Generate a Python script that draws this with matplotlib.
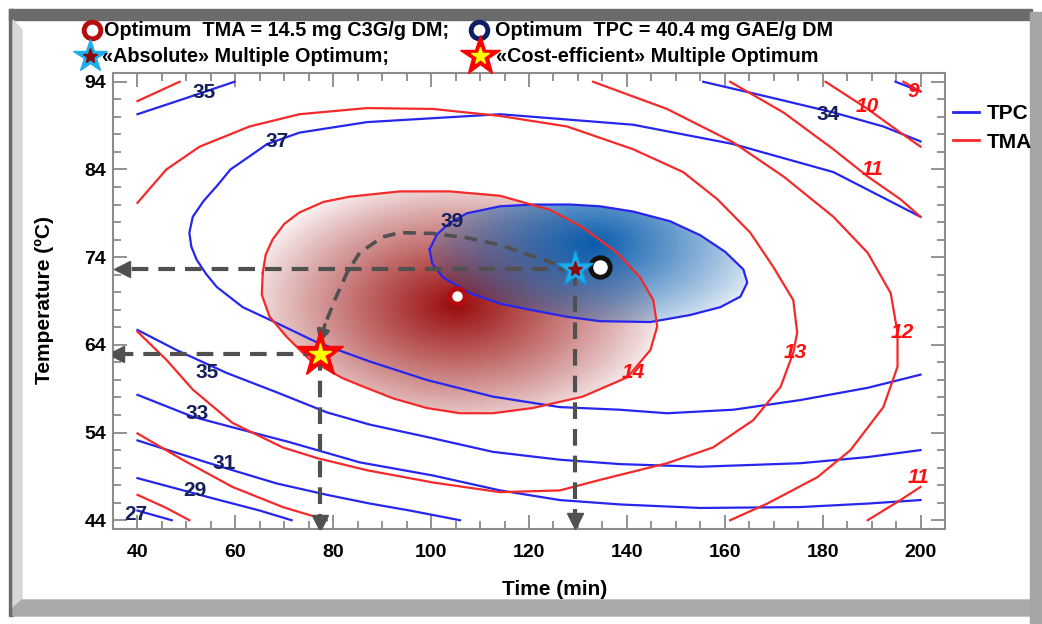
import numpy as np
import matplotlib.pyplot as plt
from matplotlib.patches import Polygon, Rectangle
from matplotlib.lines import Line2D

plt.rcParams['font.family'] = ['Liberation Sans', 'DejaVu Sans']
plt.rcParams['font.weight'] = 'bold'

# ---- TPC contours (time min, temperature C) ----
tpc39_t = [99.7, 101.2, 103.8, 107.3, 114.1, 120.8, 128.4, 134.5, 141.3, 148.8, 155.0, 160.1, 163.8,
           164.6, 163.2, 159.1, 152.9, 144.8, 134.5, 127.8, 120.2, 114.1, 107.9, 102.4, 100.2, 99.7]
tpc39_T = [74.9, 76.6, 77.9, 79.0, 79.8, 80.0, 80.0, 79.8, 79.2, 78.1, 76.5, 74.6, 72.6,
           71.1, 69.5, 68.3, 67.4, 66.6, 66.7, 67.2, 68.0, 68.7, 69.9, 71.7, 73.3, 74.9]
tpc37_t = [200.0, 182.2, 161.7, 141.3, 114.1, 86.9, 73.1, 66.5, 62.9, 59.0, 56.2, 53.5, 51.3, 50.6,
           51.0, 52.1, 54.0, 56.2, 61.5, 68.4, 76.6, 87.5, 99.1, 112.6, 126.3, 138.6, 148.2, 161.7,
           175.4, 189.2, 200.0]
tpc37_T = [78.6, 83.7, 86.9, 89.1, 90.3, 89.4, 88.2, 86.9, 85.5, 84.0, 82.1, 80.4, 78.6, 76.8,
           75.2, 73.7, 72.1, 70.6, 68.3, 66.5, 64.3, 62.1, 60.0, 58.1, 56.9, 56.6, 56.2, 56.6,
           57.7, 59.1, 60.6]
tpc35a_t = [40.0, 49.2, 59.8]
tpc35a_T = [90.3, 92.0, 94.0]
tpc35b_t = [40.0, 48.0, 58.2, 68.4, 78.7, 87.5, 99.1, 112.6, 126.3, 138.6, 155.0, 175.4, 189.2, 200.0]
tpc35b_T = [65.7, 63.4, 60.8, 58.6, 56.3, 54.9, 53.5, 51.8, 50.9, 50.4, 50.1, 50.5, 51.2, 52.0]
tpc34_t = [155.6, 168.7, 182.2, 192.4, 200.0]
tpc34_T = [94.0, 92.3, 90.5, 88.9, 87.2]
tpc33a_t = [194.9, 200.0]
tpc33a_T = [94.0, 92.9]
tpc33b_t = [40.0, 51.3, 59.4, 71.1, 85.4, 100.4, 114.1, 126.3, 138.6, 155.0, 175.4, 189.2, 200.0]
tpc33b_T = [58.3, 55.8, 54.6, 52.9, 50.6, 49.1, 47.4, 46.3, 45.8, 45.4, 45.5, 45.9, 46.3]
tpc31_t = [40.0, 54.7, 68.4, 78.7, 87.5, 95.7, 105.9]
tpc31_T = [53.1, 50.5, 48.2, 46.9, 45.9, 45.1, 44.0]
tpc29_t = [40.0, 54.7, 65.0, 71.5]
tpc29_T = [48.8, 46.6, 45.1, 44.0]
tpc27_t = [40.0, 47.0]
tpc27_T = [45.1, 44.0]

# ---- TMA contours ----
tma14_t = [65.6, 66.2, 67.6, 70.0, 73.1, 78.0, 83.4, 93.6, 103.8, 114.1, 124.3, 131.0, 138.0, 142.7,
           145.4, 146.2, 144.8, 140.1, 131.0, 120.8, 112.6, 105.9, 99.1, 92.2, 85.4, 81.9, 75.2,
           70.5, 67.0, 65.4, 65.6]
tma14_T = [72.2, 74.3, 76.0, 77.8, 79.1, 80.3, 80.9, 81.5, 81.5, 81.0, 79.4, 77.4, 74.5, 71.7,
           69.1, 66.1, 63.4, 60.3, 58.1, 56.8, 56.2, 56.2, 56.8, 57.9, 59.4, 60.2, 62.3,
           64.9, 67.2, 69.7, 72.2]
tma13_t = [40.0, 45.9, 51.3, 59.4, 69.7, 76.6, 86.9, 100.4, 114.1, 126.3, 134.5, 148.2, 157.6, 165.8,
           171.4, 174.0, 174.8, 174.0, 169.9, 165.2, 158.5, 151.5, 141.3, 127.8, 114.1, 100.4, 86.9,
           73.1, 62.9, 52.7, 45.9, 40.0]
tma13_T = [65.5, 62.3, 58.9, 55.1, 52.3, 51.1, 49.7, 48.3, 47.2, 47.4, 48.6, 50.5, 52.3, 55.4,
           59.2, 63.1, 65.4, 69.1, 72.9, 76.8, 80.6, 83.7, 86.3, 88.9, 90.1, 90.9, 91.0,
           90.3, 88.9, 86.6, 84.0, 80.2]
tma12a_t = [133.1, 148.2, 161.7, 172.0, 182.2, 189.2, 193.9, 195.3, 195.3, 192.4, 185.7, 178.9, 168.7, 161.1]
tma12a_T = [94.0, 90.9, 87.1, 83.2, 78.6, 74.5, 69.9, 65.4, 61.5, 56.9, 52.0, 48.9, 45.9, 44.0]
tma12b_t = [40.0, 49.2, 59.4, 69.7, 78.7]
tma12b_T = [53.9, 50.9, 47.8, 45.5, 44.0]
tma12c_t = [40.0, 48.6]
tma12c_T = [91.8, 94.0]
tma11a_t = [161.1, 172.0, 182.2, 189.2, 195.9, 200.0]
tma11a_T = [94.0, 90.5, 86.3, 83.2, 80.6, 78.6]
tma11b_t = [189.2, 195.9, 200.0]
tma11b_T = [44.0, 46.3, 47.8]
tma11c_t = [40.0, 45.9, 50.6]
tma11c_T = [46.9, 45.4, 44.0]
tma10_t = [180.6, 189.2, 195.9, 200.0]
tma10_T = [94.0, 90.9, 88.2, 86.6]
tma9_t = [196.5, 200.0]
tma9_T = [94.0, 92.9]

# contour labels
tpc_labels = ['35', '37', '39', '34', '35', '33', '31', '29', '27']
tpc_label_t = [53.7, 68.6, 104.2, 181.2, 54.3, 52.1, 57.8, 51.7, 39.6]
tpc_label_T = [92.8, 87.2, 78.1, 90.3, 60.9, 56.2, 50.5, 47.4, 44.6]
tma_labels = ['10', '9', '11', '14', '13', '12', '11']
tma_label_t = [189.2, 198.6, 190.2, 141.3, 174.4, 196.3, 199.6]
tma_label_T = [91.2, 92.9, 84.0, 60.9, 63.1, 65.4, 48.9]

# optimum points
tma_opt = (105.3, 69.6)
tpc_opt = (134.5, 72.9)
abs_opt = (129.5, 72.6)
cost_opt = (77.2, 63.0)

# curved path from absolute to cost-efficient optimum
path_t = [129.5, 127.8, 120.8, 114.1, 107.3, 100.4, 93.6, 90.1, 85.4, 82.8, 80.3, 78.3]
path_T = [72.6, 72.8, 74.1, 75.4, 76.2, 76.7, 76.8, 76.3, 74.5, 72.2, 69.1, 66.3]
path_tip = (77.2, 64.2)

BLUE = '#2626ee'
RED = '#f42a2a'
NAVY = '#15205a'
ARROW = '#505050'

fig = plt.figure(figsize=(10.42, 6.24), dpi=100)
fig.patch.set_facecolor('white')
ax = fig.add_axes([113 / 1042, 1 - 529 / 624, (945 - 113) / 1042, (529 - 73) / 624])


def shade(tt, TT, cx, cy, rx, ry, rgb, power):
    gx = np.linspace(40, 200, 480)
    gy = np.linspace(44, 94, 300)
    X, Y = np.meshgrid(gx, gy)
    d = np.sqrt(((X - cx) / rx) ** 2 + ((Y - cy) / ry) ** 2)
    img = np.zeros(X.shape + (4,))
    img[..., :3] = rgb
    img[..., 3] = np.clip(1 - 0.9 * d, 0, 1) ** power
    im = ax.imshow(img, extent=(40, 200, 44, 94), origin='lower', aspect='auto',
                   interpolation='bilinear', zorder=1)
    clip = Polygon(np.column_stack([tt, TT]), closed=True, facecolor='none', edgecolor='none')
    ax.add_patch(clip)
    im.set_clip_path(clip)


shade(tma14_t, tma14_T, 105, 68.5, 41, 14, (0.60, 0.04, 0.04), 0.9)
shade(tpc39_t, tpc39_T, 133, 75.5, 35, 11, (0.03, 0.36, 0.68), 0.85)

for tt, TT in [(tpc39_t, tpc39_T), (tpc37_t, tpc37_T), (tpc35a_t, tpc35a_T), (tpc35b_t, tpc35b_T),
               (tpc34_t, tpc34_T), (tpc33a_t, tpc33a_T), (tpc33b_t, tpc33b_T), (tpc31_t, tpc31_T),
               (tpc29_t, tpc29_T), (tpc27_t, tpc27_T)]:
    ax.plot(tt, TT, color=BLUE, lw=1.6, zorder=3, solid_joinstyle='round')
for tt, TT in [(tma14_t, tma14_T), (tma13_t, tma13_T), (tma12a_t, tma12a_T), (tma12b_t, tma12b_T),
               (tma12c_t, tma12c_T), (tma11a_t, tma11a_T), (tma11b_t, tma11b_T), (tma11c_t, tma11c_T),
               (tma10_t, tma10_T), (tma9_t, tma9_T)]:
    ax.plot(tt, TT, color=RED, lw=1.6, zorder=3, solid_joinstyle='round')

for s, x, y in zip(tpc_labels, tpc_label_t, tpc_label_T):
    ax.text(x, y, s, color=NAVY, fontsize=15, fontweight='bold', ha='center', va='center', zorder=6)
for s, x, y in zip(tma_labels, tma_label_t, tma_label_T):
    ax.text(x, y, s, color='#ff1010', fontsize=15, fontweight='bold', style='italic',
            ha='center', va='center', zorder=6)

# dashed guide arrows
dash = dict(color=ARROW, lw=3, dashes=(4, 2.4), zorder=7, solid_capstyle='butt')
ax.plot([abs_opt[0], 37.8], [abs_opt[1], abs_opt[1]], **dash)
ax.plot([abs_opt[0], abs_opt[0]], [abs_opt[1], 44.3], **dash)
ax.plot([cost_opt[0], 36.0], [cost_opt[1], cost_opt[1]], **dash)
ax.plot([cost_opt[0], cost_opt[0]], [cost_opt[1], 44.3], **dash)
ax.plot(36.8, abs_opt[1], marker='<', ms=11, color=ARROW, zorder=7)
ax.plot(35.6, cost_opt[1], marker='<', ms=11, color=ARROW, zorder=7)
ax.plot(abs_opt[0], 43.9, marker='v', ms=11, color=ARROW, zorder=7)
ax.plot(cost_opt[0], 43.7, marker='v', ms=11, color=ARROW, zorder=7)
ax.plot(path_t, path_T, color=ARROW, lw=2.6, dashes=(3.5, 2.2), zorder=7)
ax.annotate('', xy=path_tip, xytext=(path_t[-1], path_T[-1]),
            arrowprops=dict(arrowstyle='-|>', color=ARROW, lw=2.5, mutation_scale=18,
                            shrinkA=0, shrinkB=0), zorder=7)

# optimum markers
ax.plot(*tma_opt, marker='o', ms=11, mfc='white', mec='#b50d0d', mew=3.5, zorder=8)
ax.plot(*tpc_opt, marker='o', ms=14, mfc='white', mec='#111111', mew=3.5, zorder=8)
ax.plot(*abs_opt, marker='*', ms=27, mfc='#1eb0ee', mec='#1098e0', mew=1, zorder=9)
ax.plot(*abs_opt, marker='*', ms=11, mfc='#8a0a0a', mec='#8a0a0a', zorder=10)
ax.plot(*cost_opt, marker='*', ms=35, mfc='#ff0000', mec='#ff0000', zorder=9)
ax.plot(*cost_opt, marker='*', ms=16, mfc='#ffff00', mec='#ffff00', zorder=10)

ax.set_xlim(35, 205)
ax.set_ylim(43, 95)
ax.set_xticks(np.arange(40, 201, 20))
ax.set_xticks(np.arange(40, 201, 5), minor=True)
ax.set_yticks(np.arange(44, 95, 10))
ax.set_yticks(np.arange(44, 95, 2), minor=True)
ax.tick_params(which='both', direction='in', top=True, right=True, color='#808080', width=1.2)
ax.tick_params(which='major', length=10, labelsize=14, pad=11)
ax.tick_params(which='minor', length=6)
ax.tick_params(axis='y', which='major', pad=5)
for lab in ax.get_xticklabels() + ax.get_yticklabels():
    lab.set_fontweight('bold')
for sp in ax.spines.values():
    sp.set_color('#8c8c8c')
    sp.set_linewidth(1.5)
ax.set_xlabel('Time (min)', fontsize=15, fontweight='bold')
ax.xaxis.set_label_coords((555 - 113) / 832, -(580 - 529) / 456)
ax.set_ylabel('Temperature (ºC)', fontsize=15, fontweight='bold')
ax.yaxis.set_label_coords(-(113 - 54) / 832, (529 - 300) / 456)

ax.legend(handles=[Line2D([], [], color=BLUE, lw=2, label='TPC'),
                   Line2D([], [], color=RED, lw=2, label='TMA')],
          loc='upper left', bbox_to_anchor=(1.0, 0.95), frameon=False,
          prop=dict(size=15, weight='bold'), handlelength=1.25, handletextpad=0.35,
          labelspacing=0.45, borderaxespad=0.0)

# overlay in pixel units for frame
ov = fig.add_axes([0, 0, 1, 1], zorder=-1)
ov.set_xlim(0, 1042)
ov.set_ylim(624, 0)
ov.axis('off')
ov.add_patch(Rectangle((9, 9), 1023, 11, color='#6b6b6b'))
ov.add_patch(Rectangle((9, 9), 4, 607, color='#6b6b6b'))
ov.add_patch(Polygon([(13, 20), (22, 30), (22, 600), (13, 608)], color='#d8d8d8'))
ov.add_patch(Rectangle((1030, 12), 12, 612, color='#a5a5a5'))
ov.add_patch(Polygon([(13, 608), (22, 600), (1030, 600), (1030, 616), (13, 616)], color='#a9a9a9'))

# header legend
hdr = fig.add_axes([0, 0, 1, 1], zorder=5)
hdr.set_xlim(0, 1042)
hdr.set_ylim(624, 0)
hdr.axis('off')
hdr.plot(92, 30, marker='o', ms=12, mfc='white', mec='#b50d0d', mew=3.5)
hdr.text(104, 30, 'Optimum  TMA = 14.5 mg C3G/g DM;', fontsize=14.3, fontweight='bold', va='center')
hdr.plot(479, 30, marker='o', ms=12, mfc='white', mec='#0b1f63', mew=3.5)
hdr.text(495, 30, 'Optimum  TPC = 40.4 mg GAE/g DM', fontsize=14.3, fontweight='bold', va='center')
hdr.plot(90, 56, marker='*', ms=25, mfc='#1eb0ee', mec='#1eb0ee')
hdr.plot(90, 56, marker='*', ms=11, mfc='#8a0a0a', mec='#8a0a0a')
hdr.text(102, 56, '«Absolute» Multiple Optimum;', fontsize=14.3, fontweight='bold', va='center')
hdr.plot(480, 56, marker='*', ms=30, mfc='#ff0000', mec='#ff0000')
hdr.plot(480, 56, marker='*', ms=13, mfc='#ffff00', mec='#ffff00')
hdr.text(496, 56, '«Cost-efficient» Multiple Optimum', fontsize=14.3, fontweight='bold', va='center')

fig.savefig('out.png', dpi=100)
